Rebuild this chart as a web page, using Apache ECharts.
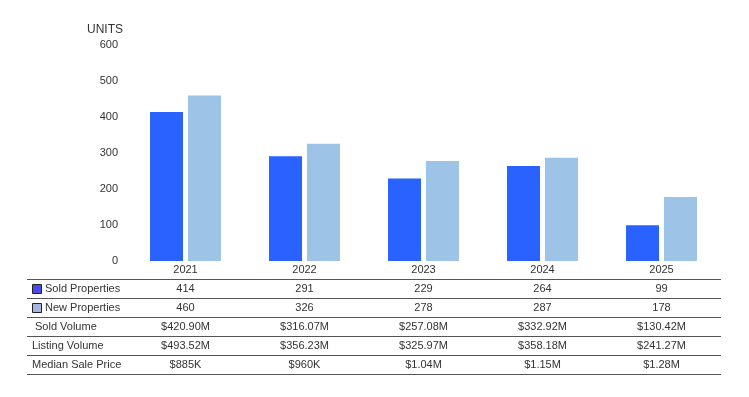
<!DOCTYPE html>
<html>
<head>
<meta charset="utf-8">
<script src="https://cdn.jsdelivr.net/npm/echarts@6/dist/echarts.min.js"></script>
<style>
  html, body { margin: 0; padding: 0; background: #fff; }
  #chart { width: 749px; height: 397px; }
</style>
</head>
<body>
<div id="chart"></div>
<script>
const years = ['2021', '2022', '2023', '2024', '2025'];
const soldProperties = [414, 291, 229, 264, 99];
const newProperties = [460, 326, 278, 287, 178];
const soldVolume = ['$420.90M', '$316.07M', '$257.08M', '$332.92M', '$130.42M'];
const listingVolume = ['$493.52M', '$356.23M', '$325.97M', '$358.18M', '$241.27M'];
const medianSalePrice = ['$885K', '$960K', '$1.04M', '$1.15M', '$1.28M'];
const yTicks = [0, 100, 200, 300, 400, 500, 600];

const font = 'Arial, "Liberation Sans", sans-serif';
const textColor = '#333';
const soldColor = '#2962ff';
const newColor = '#9dc3e6';

const rows = [
  { name: 'Sold Properties', values: soldProperties.map(String), swatch: '#4a4ae6' },
  { name: 'New Properties', values: newProperties.map(String), swatch: '#a3b6e2' },
  { name: 'Sold Volume', values: soldVolume, indent: 3 },
  { name: 'Listing Volume', values: listingVolume },
  { name: 'Median Sale Price', values: medianSalePrice }
];

const chart = echarts.init(document.getElementById('chart'));

// one extra category axis per table row, stacked below the chart
const rowAxes = rows.map((r, i) => ({
  type: 'category',
  position: 'bottom',
  offset: 19 * (i + 1),
  data: r.values,
  axisLine: { show: false },
  axisTick: { show: false },
  axisLabel: { margin: 3, color: textColor, fontSize: 11, fontFamily: font }
}));

const graphics = [];
// horizontal rules of the table
for (let i = 0; i <= rows.length; i++) {
  graphics.push({
    type: 'line',
    shape: { x1: 27, y1: 279.5 + 19 * i, x2: 721, y2: 279.5 + 19 * i },
    style: { stroke: '#555', lineWidth: 1 }
  });
}
rows.forEach((r, i) => {
  const cy = 289 + 19 * i;
  let tx = 32 + (r.indent || 0);
  if (r.swatch) {
    graphics.push({
      type: 'rect',
      shape: { x: 32.5, y: cy - 4.5, width: 9, height: 9 },
      style: { fill: r.swatch, stroke: '#222', lineWidth: 1 }
    });
    tx = 45;
  }
  graphics.push({
    type: 'text',
    x: tx, y: cy,
    style: { text: r.name, fill: textColor, font: '11px ' + font, textVerticalAlign: 'middle' }
  });
});

chart.setOption({
  animation: false,
  grid: { left: 126, right: 28, top: 45, bottom: 136 },
  xAxis: [{
    type: 'category',
    data: years,
    axisLine: { show: false },
    axisTick: { show: false },
    axisLabel: { margin: 3, color: textColor, fontSize: 11, fontFamily: font }
  }].concat(rowAxes),
  yAxis: {
    type: 'value',
    min: yTicks[0],
    max: yTicks[yTicks.length - 1],
    interval: 100,
    name: 'UNITS',
    nameLocation: 'end',
    nameGap: 9,
    nameTextStyle: { color: textColor, fontSize: 12, fontFamily: font, align: 'right', padding: [0, 3, 0, 0] },
    axisLine: { show: false },
    axisTick: { show: false },
    splitLine: { show: false },
    axisLabel: { margin: 8, color: textColor, fontSize: 11, fontFamily: font }
  },
  series: [
    {
      name: 'Sold Properties',
      type: 'bar',
      data: soldProperties,
      barWidth: 33,
      barGap: '15%',
      itemStyle: { color: soldColor }
    },
    {
      name: 'New Properties',
      type: 'bar',
      data: newProperties,
      barWidth: 33,
      itemStyle: { color: newColor }
    }
  ],
  graphic: graphics
});
</script>
</body>
</html>
